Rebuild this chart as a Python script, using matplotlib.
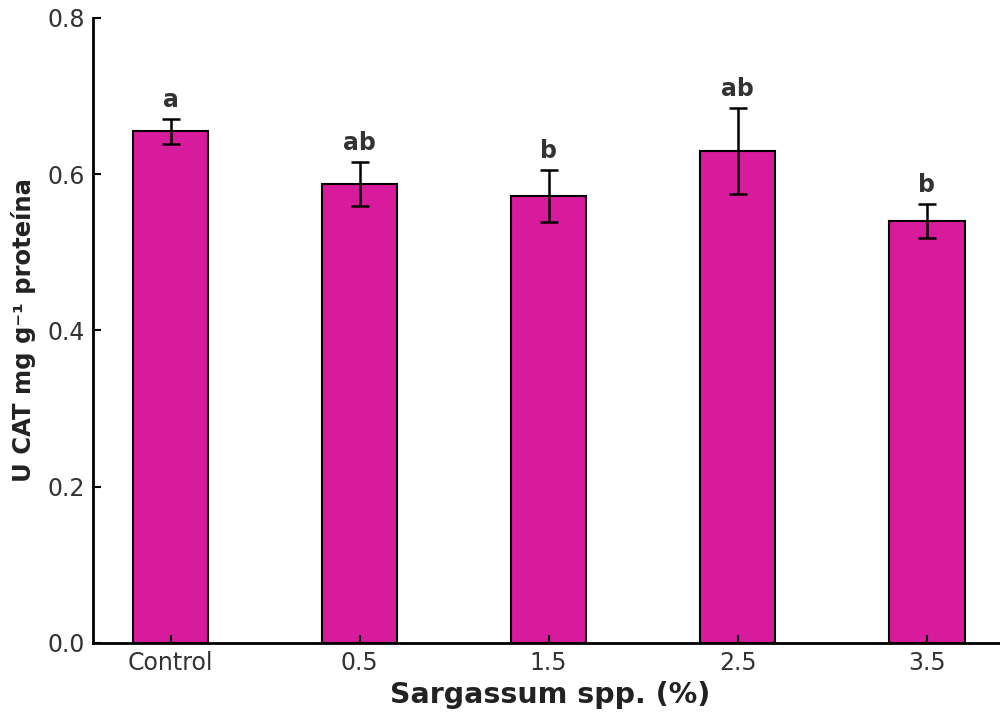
import matplotlib
matplotlib.use("Agg")
import matplotlib.pyplot as plt

# data
groups = ["Control", "0.5", "1.5", "2.5", "3.5"]
means = [0.655, 0.587, 0.572, 0.630, 0.540]
errors = [0.016, 0.028, 0.033, 0.055, 0.022]
letters = ["a", "ab", "b", "ab", "b"]


def main():
    fig = plt.figure(figsize=(10, 7.12), dpi=100)
    ax = fig.add_axes([0.093, 0.097, 0.915, 0.878])

    x = range(len(groups))
    ax.bar(x, means, width=0.4, color="#D81B9C", edgecolor="black",
           linewidth=1.5, yerr=errors, capsize=6.5,
           error_kw={"elinewidth": 1.8, "capthick": 1.8, "ecolor": "black"})

    for i, (m, e, lab) in enumerate(zip(means, errors, letters)):
        ax.text(i, m + e + 0.009, lab, ha="center", va="bottom",
                fontsize=17, fontweight="bold", color="#333333")

    ax.set_xticks(list(x))
    ax.set_xticklabels(groups)
    ax.set_xlim(-0.41, 4.43)
    ax.set_ylim(0, 0.8)
    ax.set_yticks([0.0, 0.2, 0.4, 0.6, 0.8])

    ax.spines["top"].set_visible(False)
    ax.spines["right"].set_visible(False)
    ax.spines["left"].set_linewidth(2)
    ax.spines["bottom"].set_linewidth(2)
    ax.tick_params(direction="in", length=6, width=1.5, labelsize=17,
                   labelcolor="#333333", pad=6)

    ax.set_xlabel("Sargassum spp. (%)", fontsize=20.5, fontweight="bold",
                  color="#222222", labelpad=4)
    ax.set_ylabel("U CAT mg g\u207b\u00b9 proteína", fontsize=17.5,
                  fontweight="bold", color="#222222", labelpad=8)

    fig.savefig("out.png", dpi=100)


if __name__ == "__main__":
    main()
